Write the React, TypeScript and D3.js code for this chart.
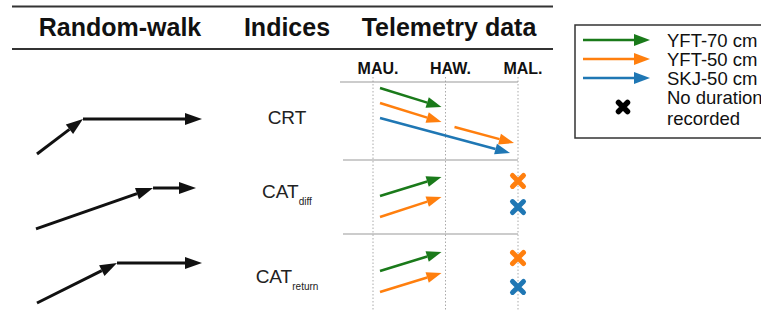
import * as d3 from "d3";

// columns / rows of the diagram
const sites = ["MAU.", "HAW.", "MAL."];
const indices = ["CRT", "CAT_diff", "CAT_return"];
const indexMain = ["CRT", "CAT", "CAT"];
const indexSub = ["", "diff", "return"];

// legend series
const series = ["YFT-70 cm", "YFT-50 cm", "SKJ-50 cm"];
const seriesColors = ["#1a7a1a", "#ff7f0e", "#1f77b4"];

// telemetry movements (level = lane inside a row)
const moveIndex = ["CRT", "CRT", "CRT", "CRT", "CAT_diff", "CAT_diff", "CAT_return", "CAT_return"];
const moveSeries = ["YFT-70 cm", "YFT-50 cm", "YFT-50 cm", "SKJ-50 cm", "YFT-70 cm", "YFT-50 cm", "YFT-70 cm", "YFT-50 cm"];
const moveFrom = ["MAU.", "MAU.", "HAW.", "MAU.", "MAU.", "MAU.", "MAU.", "MAU."];
const moveTo = ["HAW.", "HAW.", "MAL.", "MAL.", "HAW.", "HAW.", "HAW.", "HAW."];
const moveStart = [0, 1, 2.6, 2, 2.13, 3.53, 2.07, 3.47];
const moveEnd = [1.27, 2.27, 3.67, 4.33, 0.87, 2.2, 0.8, 2.2];

// no duration recorded
const missIndex = ["CAT_diff", "CAT_diff", "CAT_return", "CAT_return"];
const missSeries = ["YFT-50 cm", "SKJ-50 cm", "YFT-50 cm", "SKJ-50 cm"];
const missSite = ["MAL.", "MAL.", "MAL.", "MAL."];
const missLevel = [1.13, 2.87, 1.2, 3.13];

// random-walk steps per index
const walkX = [[0.6, 28.3, 100], [0, 70.5, 96.4], [0.6, 48.8, 100]];
const walkLevel = [[4.4, 2.07, 2.07], [4.33, 1.6, 1.6], [4.2, 1.53, 1.53]];

const W = 761;
const H = 313;
const font = "'Liberation Sans', Arial, sans-serif";

function arrowHead(x0: number, y0: number, x1: number, y1: number, len: number, hw: number) {
  const a = Math.atan2(y1 - y0, x1 - x0);
  const bx = x1 - len * Math.cos(a);
  const by = y1 - len * Math.sin(a);
  const px = -Math.sin(a) * hw;
  const py = Math.cos(a) * hw;
  return {
    base: [bx, by],
    points: `${x1},${y1} ${bx + px},${by + py} ${bx - px},${by - py}`,
  };
}

function Arrow({ x0, y0, x1, y1, color, width = 2.5, len = 15, hw = 5.5 }: any) {
  const h = arrowHead(x0, y0, x1, y1, len, hw);
  return (
    <g>
      <line x1={x0} y1={y0} x2={h.base[0]} y2={h.base[1]} stroke={color} strokeWidth={width} />
      <polygon points={h.points} fill={color} />
    </g>
  );
}

function Cross({ cx, cy, r, color, width }: any) {
  return (
    <path
      d={`M${cx - r},${cy - r}L${cx + r},${cy + r}M${cx - r},${cy + r}L${cx + r},${cy - r}`}
      stroke={color}
      strokeWidth={width}
      strokeLinecap="round"
    />
  );
}

export default function App() {
  const x = d3.scalePoint<string>().domain(sites).range([373, 518]);
  const row = d3.scaleBand<string>().domain(indices).range([82, 310]);
  const level = d3.scaleLinear().domain([0, 5]).range([6, 81]);
  const wx = d3.scaleLinear().domain([0, 100]).range([36, 202]);
  const color = d3.scaleOrdinal<string, string>().domain(series).range(seriesColors);

  const labelOffset = [42, 40, 49];
  const legendY = d3.scalePoint<string>().domain(series).range([40, 78]);

  return (
    <svg width={W} height={H} style={{ position: "absolute", left: 0, top: 0, fontFamily: font }}>
      <rect width={W} height={H} fill="#fff" />

      {/* header */}
      <line x1={12} x2={553} y1={6.5} y2={6.5} stroke="#333" strokeWidth={2} />
      <line x1={12} x2={553} y1={49} y2={49} stroke="#333" strokeWidth={2} />
      <g fontWeight="bold" fontSize={25} textAnchor="middle" fill="#111">
        <text x={120} y={36}>Random-walk</text>
        <text x={287} y={36}>Indices</text>
        <text x={449} y={36}>Telemetry data</text>
      </g>

      {/* site labels & grid */}
      {sites.map((s) => (
        <g key={s}>
          <text x={x(s)! + 5} y={74} textAnchor="middle" fontWeight="bold" fontSize={16} fill="#111">
            {s}
          </text>
          <line x1={x(s)} x2={x(s)} y1={77} y2={310} stroke="#aaa" strokeWidth={1} strokeDasharray="1.5,2" />
        </g>
      ))}
      {indices.map((ix, i) => (
        <line
          key={ix}
          x1={i === 0 ? 340 : 343}
          x2={x("MAL.")}
          y1={row(ix)! + (i === 1 ? 2 : 0)}
          y2={row(ix)! + (i === 1 ? 2 : 0)}
          stroke="#999"
          strokeWidth={1.2}
        />
      ))}

      {/* telemetry arrows */}
      {moveIndex.map((ix, i) => {
        const top = row(ix)!;
        const x0 = x(moveFrom[i])! + (moveFrom[i] === "HAW." ? 9 : 7);
        const x1 = x(moveTo[i])! - (moveSeries[i] === "SKJ-50 cm" ? 8 : 4);
        return (
          <Arrow
            key={i}
            x0={x0}
            y0={top + level(moveStart[i])}
            x1={x1}
            y1={top + level(moveEnd[i])}
            color={color(moveSeries[i])}
          />
        );
      })}
      {missIndex.map((ix, i) => (
        <Cross
          key={i}
          cx={x(missSite[i])}
          cy={row(ix)! + level(missLevel[i])}
          r={5.5}
          width={5}
          color={color(missSeries[i])}
        />
      ))}

      {/* index labels */}
      {indices.map((ix, i) => (
        <text key={ix} x={287} y={row(ix)! + labelOffset[i]} textAnchor="middle" fontSize={19} fill="#222">
          {indexMain[i]}
          {indexSub[i] && (
            <tspan fontSize={10} dy={7}>
              {indexSub[i]}
            </tspan>
          )}
        </text>
      ))}

      {/* random walks */}
      {indices.map((ix, r) => {
        const top = row(ix)!;
        const pts = walkX[r].map((v, k) => [wx(v), top + level(walkLevel[r][k])]);
        return (
          <g key={ix}>
            {pts.slice(1).map((p, k) => (
              <Arrow
                key={k}
                x0={pts[k][0]}
                y0={pts[k][1]}
                x1={p[0]}
                y1={p[1]}
                color="#111"
                width={3}
                len={17}
                hw={6}
              />
            ))}
          </g>
        );
      })}

      {/* legend */}
      <rect x={575} y={25} width={220} height={113} fill="#fff" stroke="#333" strokeWidth={1.5} />
      {series.map((s) => (
        <g key={s}>
          <Arrow x0={583} y0={legendY(s)} x1={650} y1={legendY(s)} color={color(s)} width={2.5} len={16} hw={6} />
          <text x={667} y={legendY(s)! + 7} fontSize={18.5} fill="#111">
            {s}
          </text>
        </g>
      ))}
      <Cross cx={623} cy={107} r={4.5} width={5.5} color="#000" />
      <text x={667} y={104} fontSize={18.5} fill="#111">No duration</text>
      <text x={667} y={125} fontSize={18.5} fill="#111">recorded</text>
    </svg>
  );
}
